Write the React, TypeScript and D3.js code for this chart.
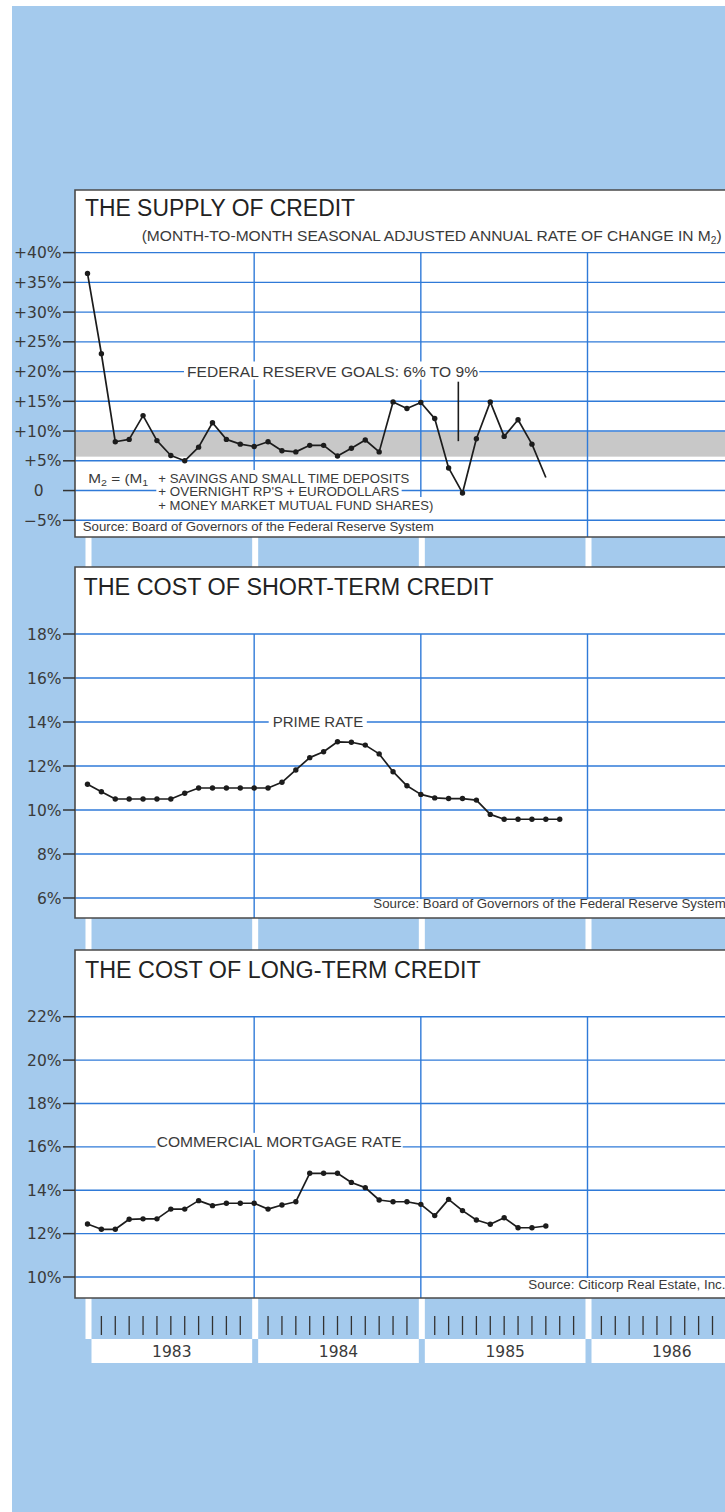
import React, { useEffect, useRef } from "react";
import * as d3 from "d3";

// ---------- DATA (months since Jan 1983) ----------
const m2Growth = [36.5, 23.0, 8.2, 8.6, 12.6, 8.4, 5.9, 5.0, 7.3, 11.4, 8.6, 7.8, 7.4, 8.2, 6.7, 6.5, 7.6, 7.6, 5.8, 7.1, 8.5, 6.5, 14.9, 13.8, 14.8, 12.1, 3.8, -0.4, 8.7, 14.9, 9.1, 11.9, 7.8, 2.2];
const primeRate = [11.17, 10.83, 10.5, 10.5, 10.5, 10.5, 10.5, 10.76, 11.0, 11.0, 11.0, 11.0, 11.0, 11.0, 11.26, 11.82, 12.38, 12.65, 13.1, 13.08, 12.95, 12.55, 11.74, 11.1, 10.71, 10.55, 10.52, 10.52, 10.45, 9.8, 9.58, 9.58, 9.58, 9.58, 9.58];
const mortgageRate = [12.44, 12.2, 12.2, 12.66, 12.68, 12.68, 13.13, 13.13, 13.52, 13.29, 13.4, 13.4, 13.4, 13.13, 13.32, 13.47, 14.78, 14.78, 14.78, 14.36, 14.12, 13.55, 13.47, 13.47, 13.35, 12.83, 13.58, 13.06, 12.63, 12.43, 12.73, 12.27, 12.27, 12.35];
const yearLabels = ["1983", "1984", "1985", "1986"];
const supplyTicks = [40, 35, 30, 25, 20, 15, 10, 5, 0, -5];
const supplyTickLabels = ["+40%", "+35%", "+30%", "+25%", "+20%", "+15%", "+10%", "+5%", "0", "\u22125%"];
const shortTicks = [18, 16, 14, 12, 10, 8, 6];
const shortTickLabels = ["18%", "16%", "14%", "12%", "10%", "8%", "6%"];
const longTicks = [22, 20, 18, 16, 14, 12, 10];
const longTickLabels = ["22%", "20%", "18%", "16%", "14%", "12%", "10%"];
const goalBand = [5.7, 9.9];
const goalPointer = { month: 26.7, from: 18.3, to: 8.3 };

const W = 725;
const H = 1512;
const LIB = "'Liberation Sans', Arial, Helvetica, sans-serif";
const DEJ = "'DejaVu Sans', sans-serif";
const BG = "#a4caed";
const GRID = "#2f7ad8";
const INK = "#222";
const LABEL = "#3a3a3a";

export default function App() {
  const ref = useRef<SVGSVGElement>(null);

  useEffect(() => {
    const svg = d3.select(ref.current);
    svg.selectAll("*").remove();

    svg.append("rect").attr("width", W).attr("height", H).attr("fill", "#fff");
    svg.append("rect").attr("x", 12).attr("y", 6).attr("width", W - 12).attr("height", H - 6).attr("fill", BG);

    const x = d3.scaleLinear().domain([0, 36]).range([87.5, 587.5]);
    const yearStarts = [0, 12, 24, 36];

    // white stripes in blue background
    const stripeBands = [[537, 567], [918, 950], [1298, 1339]];
    stripeBands.forEach(([a, b]) =>
      yearStarts.forEach((m) =>
        svg.append("rect").attr("x", x(m) - 2).attr("y", a).attr("width", 6).attr("height", b - a).attr("fill", "#fff")
      )
    );

    const fit = (sel: any, width: number) => {
      sel.attr("textLength", width).attr("lengthAdjust", "spacingAndGlyphs");
      return sel;
    };
    const bg = (g: any, t: any, pl: number, pr: number, pt: number, pb: number) => {
      const bb = (t.node() as SVGTextElement).getBBox();
      g.insert("rect", () => t.node())
        .attr("x", bb.x - pl)
        .attr("y", bb.y - pt)
        .attr("width", bb.width + pl + pr)
        .attr("height", bb.height + pt + pb)
        .attr("fill", "#fff");
    };

    const panel = (cfg: any) => {
      const g = svg.append("g");
      g.append("rect").attr("x", 75).attr("y", cfg.top).attr("width", 700).attr("height", cfg.bottom - cfg.top).attr("fill", "#fff");
      cfg.ticks.forEach((t: number) => {
        g.append("line").attr("x1", 75).attr("x2", W).attr("y1", cfg.y(t)).attr("y2", cfg.y(t))
          .attr("stroke", GRID).attr("stroke-width", 1.4);
      });
      cfg.vlines.forEach((v: number[], i: number) => {
        g.append("line").attr("x1", x(yearStarts[i + 1])).attr("x2", x(yearStarts[i + 1]))
          .attr("y1", cfg.y(cfg.ticks[0])).attr("y2", v[1])
          .attr("stroke", GRID).attr("stroke-width", 1.4);
      });
      g.append("path")
        .attr("d", `M${W + 5},${cfg.top}H75V${cfg.bottom}H${W + 5}`)
        .attr("fill", "none").attr("stroke", "#4a4a4a").attr("stroke-width", 1.6);
      cfg.ticks.forEach((t: number, i: number) => {
        g.append("line").attr("x1", 63).attr("x2", 75).attr("y1", cfg.y(t)).attr("y2", cfg.y(t))
          .attr("stroke", "#333").attr("stroke-width", 1.5);
        const lab = cfg.tickLabels[i];
        g.append("text")
          .attr("x", lab === "0" ? 43.5 : 61.5)
          .attr("y", cfg.y(t))
          .attr("dy", "0.36em")
          .attr("text-anchor", "end")
          .attr("font-family", DEJ)
          .attr("font-size", 15.5)
          .attr("fill", LABEL)
          .text(lab);
      });
      const tt = g.append("text").attr("x", cfg.titleX).attr("y", cfg.titleY)
        .attr("font-family", LIB).attr("font-size", 23).attr("fill", INK).text(cfg.title);
      fit(tt, cfg.titleW);
      return g;
    };

    const series = (g: any, y: any, data: number[], dotsUpTo: number) => {
      const line = d3.line<number>().x((_, i) => x(i)).y((d) => y(d));
      g.append("path").attr("d", line(data)).attr("fill", "none").attr("stroke", "#1c1c1c")
        .attr("stroke-width", 1.7).attr("stroke-linejoin", "round");
      g.selectAll(null).data(data.slice(0, dotsUpTo)).enter().append("circle")
        .attr("cx", (_: number, i: number) => x(i)).attr("cy", (d: number) => y(d)).attr("r", 2.7).attr("fill", "#1c1c1c");
    };

    // ---------- Panel 1 ----------
    const y1 = d3.scaleLinear().domain([-5, 40]).range([520.3, 252.6]);
    {
      const pg = panel({
        top: 190, bottom: 537, y: y1, ticks: supplyTicks, tickLabels: supplyTickLabels,
        vlines: [[0, 470], [0, 497], [0, 537]],
        title: "THE SUPPLY OF CREDIT", titleX: 85, titleY: 215.7, titleW: 270,
      });
      const firstLine = pg.select("line").node();
      pg.insert("rect", () => firstLine).attr("x", 75).attr("y", y1(goalBand[1])).attr("width", W - 75)
        .attr("height", y1(goalBand[0]) - y1(goalBand[1])).attr("fill", "#c8c8c8");

      const st = pg.append("text").attr("x", 141.7).attr("y", 241).attr("font-family", LIB)
        .attr("font-size", 15.3).attr("fill", LABEL);
      st.append("tspan").text("(MONTH-TO-MONTH SEASONAL ADJUSTED ANNUAL RATE OF CHANGE IN M");
      st.append("tspan").attr("font-size", 10).attr("dy", 3).text("2");
      st.append("tspan").attr("dy", -3).text(")");
      fit(st, 580);

      const fed = pg.append("text").attr("x", 187).attr("y", 376.5).attr("font-family", LIB)
        .attr("font-size", 15.5).attr("fill", LABEL).text("FEDERAL RESERVE GOALS: 6% TO 9%");
      fit(fed, 291);
      bg(pg, fed, 3, 1, 1, 0);

      pg.append("line").attr("x1", x(goalPointer.month)).attr("x2", x(goalPointer.month))
        .attr("y1", y1(goalPointer.from)).attr("y2", y1(goalPointer.to))
        .attr("stroke", "#1c1c1c").attr("stroke-width", 1.6);

      const m2a = pg.append("text").attr("x", 88.3).attr("y", 482.7).attr("font-family", LIB)
        .attr("font-size", 13).attr("fill", LABEL);
      m2a.append("tspan").text("M");
      m2a.append("tspan").attr("font-size", 9).attr("dy", 3).text("2");
      m2a.append("tspan").attr("dy", -3).text(" = (M");
      m2a.append("tspan").attr("font-size", 9).attr("dy", 3).text("1");
      fit(m2a, 60);
      bg(pg, m2a, 2, 2, 0, 0);
      const lines = [
        ["+ SAVINGS AND SMALL TIME DEPOSITS", 482.7, 251],
        ["+ OVERNIGHT RP'S + EURODOLLARS", 496.4, 241],
        ["+ MONEY MARKET MUTUAL FUND SHARES)", 510, 275],
      ];
      lines.forEach(([t, yy, w]) => {
        const tx = pg.append("text").attr("x", 158.3).attr("y", yy).attr("font-family", LIB)
          .attr("font-size", 13).attr("fill", LABEL).text(t as string);
        fit(tx, w as number);
        bg(pg, tx, 2, 2, 0, 0);
      });
      const src = pg.append("text").attr("x", 82.7).attr("y", 530.7).attr("font-family", LIB)
        .attr("font-size", 13).attr("fill", LABEL).text("Source: Board of Governors of the Federal Reserve System");
      fit(src, 351);

      series(pg, y1, m2Growth, m2Growth.length - 1);
    }

    // ---------- Panel 2 ----------
    const y2 = d3.scaleLinear().domain([6, 18]).range([898, 634]);
    {
      const pg = panel({
        top: 567, bottom: 918, y: y2, ticks: shortTicks, tickLabels: shortTickLabels,
        vlines: [[0, 918], [0, 899], [0, 899]],
        title: "THE COST OF SHORT-TERM CREDIT", titleX: 83.5, titleY: 595, titleW: 410,
      });
      const pr = pg.append("text").attr("x", 272.7).attr("y", y2(14) + 4.5).attr("font-family", LIB)
        .attr("font-size", 15).attr("fill", LABEL).text("PRIME RATE");
      fit(pr, 90.6);
      bg(pg, pr, 4, 3.5, 0, 0);
      pg.append("text").attr("x", 373.3).attr("y", 908.3).attr("font-family", LIB)
        .attr("font-size", 13.3).attr("fill", LABEL).text("Source: Board of Governors of the Federal Reserve System");
      series(pg, y2, primeRate, primeRate.length);
    }

    // ---------- Panel 3 ----------
    const y3 = d3.scaleLinear().domain([10, 22]).range([1277, 1016.7]);
    {
      const pg = panel({
        top: 950, bottom: 1298, y: y3, ticks: longTicks, tickLabels: longTickLabels,
        vlines: [[0, 1298], [0, 1298], [0, 1278]],
        title: "THE COST OF LONG-TERM CREDIT", titleX: 85, titleY: 977.7, titleW: 395.7,
      });
      const cm = pg.append("text").attr("x", 156.7).attr("y", y3(16)).attr("font-family", LIB)
        .attr("font-size", 15).attr("fill", LABEL).text("COMMERCIAL MORTGAGE RATE");
      fit(cm, 245);
      bg(pg, cm, 1, 1, 0, 0);
      pg.append("text").attr("x", 528.3).attr("y", 1289.3).attr("font-family", LIB)
        .attr("font-size", 13.4).attr("fill", LABEL).text("Source: Citicorp Real Estate, Inc.");
      series(pg, y3, mortgageRate, mortgageRate.length);
    }

    // ---------- time axis ----------
    const ax = svg.append("g");
    const months = d3.range(1, 48).filter((m) => m % 12 !== 0 && x(m) < W);
    ax.selectAll(null).data(months).enter().append("line")
      .attr("x1", (m: number) => x(m)).attr("x2", (m: number) => x(m))
      .attr("y1", 1316).attr("y2", 1335).attr("stroke", "#333").attr("stroke-width", 1.3);
    yearLabels.forEach((lab, i) => {
      const x0 = x(yearStarts[i]) + 4;
      const x1 = Math.min(x(yearStarts[i] + 12) - 2, W + 5);
      ax.append("rect").attr("x", x0).attr("y", 1339).attr("width", x1 - x0).attr("height", 24).attr("fill", "#fff");
      ax.append("text").attr("x", x(yearStarts[i] + 6) + 1).attr("y", 1357).attr("text-anchor", "middle")
        .attr("font-family", DEJ).attr("font-size", 15.5).attr("fill", LABEL).text(lab);
    });
  }, []);

  return (
    <svg
      ref={ref}
      width={W}
      height={H}
      style={{ position: "absolute", left: 0, top: 0, display: "block" }}
    />
  );
}
